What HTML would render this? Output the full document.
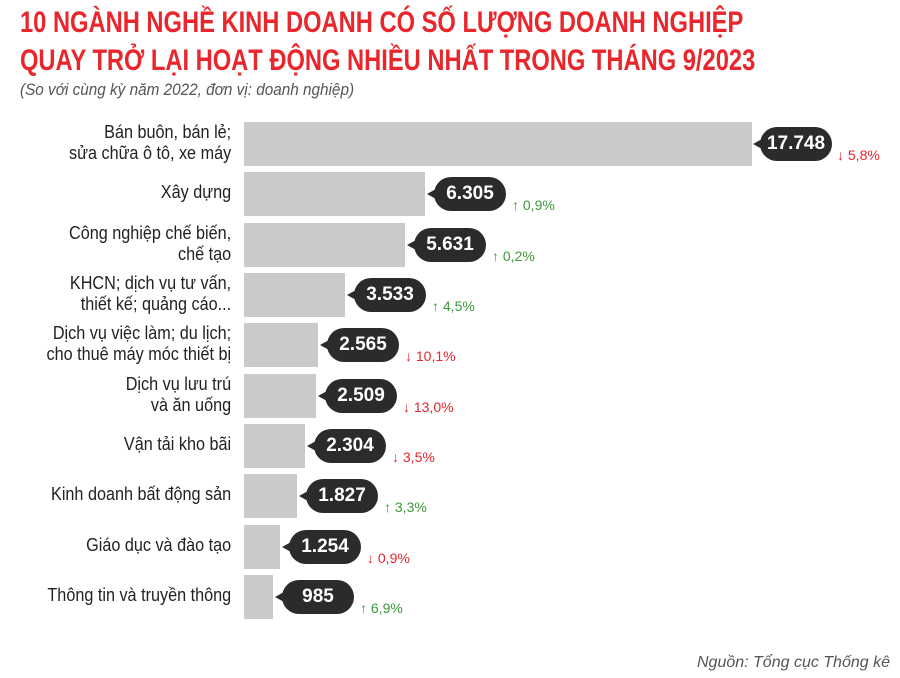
<!DOCTYPE html>
<html><head><meta charset="utf-8"><style>
body{margin:0;width:900px;height:678px;background:#fff;position:relative;overflow:hidden;font-family:"Liberation Sans",sans-serif}
.t{position:absolute;left:20px;color:#e8262b;font-weight:bold;font-size:30px;white-space:nowrap;transform:scaleX(0.79);transform-origin:left top;line-height:34px}
.sub{position:absolute;left:20px;top:80px;color:#555;font-style:italic;font-size:17px;white-space:nowrap;transform:scaleX(0.9);transform-origin:left top}
.lab{position:absolute;right:669px;color:#222;font-size:18px;line-height:21px;text-align:right;white-space:nowrap;transform:scaleX(0.9);transform-origin:right center}
.bar{position:absolute;left:244px;height:44px;background:#ccc9cc}
.bub{position:absolute;width:72px;height:34px;border-radius:17px;background:#2d2a2c;color:#fff;font-weight:bold;font-size:19px;line-height:34px;text-align:center}
.bub:before{content:"";position:absolute;left:-7px;top:12px;border-right:9px solid #2d2a2c;border-top:5px solid transparent;border-bottom:5px solid transparent}
.ch{position:absolute;font-size:14px;white-space:nowrap}
.up{color:#3a9a3a}.dn{color:#e8262b}
.src{position:absolute;right:10px;top:654px;color:#555;font-style:italic;font-size:16px}
</style></head><body>
<div class="t" style="top:6px">10 NGÀNH NGHỀ KINH DOANH CÓ SỐ LƯỢNG DOANH NGHIỆP</div>
<div class="t" style="top:44px">QUAY TRỞ LẠI HOẠT ĐỘNG NHIỀU NHẤT TRONG THÁNG 9/2023</div>
<div class="sub">(So với cùng kỳ năm 2022, đơn vị: doanh nghiệp)</div>

<div class="lab" style="top:122px">Bán buôn, bán lẻ;<br>sửa chữa ô tô, xe máy</div>
<div class="bar" style="top:122px;width:508px"></div>
<div class="bub" style="left:760px;top:127px">17.748</div>
<div class="ch dn" style="left:837px;top:147px">↓ 5,8%</div>

<div class="lab" style="top:182px">Xây dựng</div>
<div class="bar" style="top:172px;width:181px"></div>
<div class="bub" style="left:434px;top:177px">6.305</div>
<div class="ch up" style="left:512px;top:197px">↑ 0,9%</div>

<div class="lab" style="top:223px">Công nghiệp chế biến,<br>chế tạo</div>
<div class="bar" style="top:223px;width:161px"></div>
<div class="bub" style="left:414px;top:228px">5.631</div>
<div class="ch up" style="left:492px;top:248px">↑ 0,2%</div>

<div class="lab" style="top:273px">KHCN; dịch vụ tư vấn,<br>thiết kế; quảng cáo...</div>
<div class="bar" style="top:273px;width:101px"></div>
<div class="bub" style="left:354px;top:278px">3.533</div>
<div class="ch up" style="left:432px;top:298px">↑ 4,5%</div>

<div class="lab" style="top:323px">Dịch vụ việc làm; du lịch;<br>cho thuê máy móc thiết bị</div>
<div class="bar" style="top:323px;width:74px"></div>
<div class="bub" style="left:327px;top:328px">2.565</div>
<div class="ch dn" style="left:405px;top:348px">↓ 10,1%</div>

<div class="lab" style="top:374px">Dịch vụ lưu trú<br>và ăn uống</div>
<div class="bar" style="top:374px;width:72px"></div>
<div class="bub" style="left:325px;top:379px">2.509</div>
<div class="ch dn" style="left:403px;top:399px">↓ 13,0%</div>

<div class="lab" style="top:434px">Vận tải kho bãi</div>
<div class="bar" style="top:424px;width:61px"></div>
<div class="bub" style="left:314px;top:429px">2.304</div>
<div class="ch dn" style="left:392px;top:449px">↓ 3,5%</div>

<div class="lab" style="top:484px">Kinh doanh bất động sản</div>
<div class="bar" style="top:474px;width:53px"></div>
<div class="bub" style="left:306px;top:479px">1.827</div>
<div class="ch up" style="left:384px;top:499px">↑ 3,3%</div>

<div class="lab" style="top:535px">Giáo dục và đào tạo</div>
<div class="bar" style="top:525px;width:36px"></div>
<div class="bub" style="left:289px;top:530px">1.254</div>
<div class="ch dn" style="left:367px;top:550px">↓ 0,9%</div>

<div class="lab" style="top:585px">Thông tin và truyền thông</div>
<div class="bar" style="top:575px;width:29px"></div>
<div class="bub" style="left:282px;top:580px">985</div>
<div class="ch up" style="left:360px;top:600px">↑ 6,9%</div>

<div class="src">Nguồn: Tổng cục Thống kê</div>
</body></html>
